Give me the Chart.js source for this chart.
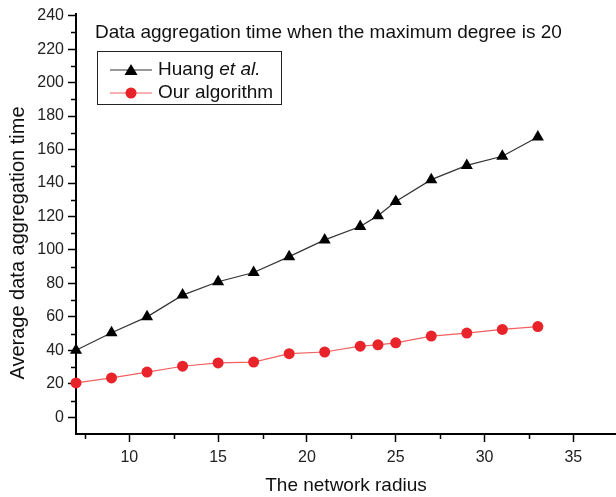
<!DOCTYPE html>
<html>
<head>
<meta charset="utf-8">
<script src="https://cdn.jsdelivr.net/npm/chart.js@4/dist/chart.umd.min.js"></script>
<style>
html,body{margin:0;padding:0;background:#fff;}
#wrap{width:616px;height:497px;position:relative;}
</style>
</head>
<body>
<div id="wrap"><canvas id="c" width="616" height="497"></canvas></div>
<script>
const radius = [7, 9, 11, 13, 15, 17, 19, 21, 23, 24, 25, 27, 29, 31, 33];
const huangValues = [40, 50.5, 60, 73, 81, 86.5, 96, 106, 114, 120.5, 129, 142, 150.5, 156, 167.5];
const ourValues = [20.5, 23.5, 27, 30.5, 32.5, 33, 38, 39, 42.5, 43.3, 44.5, 48.5, 50.3, 52.5, 54.2];
const seriesNames = ["Huang", "Our algorithm"];
const chartTitle = "Data aggregation time when the maximum degree is 20";
const xTitle = "The network radius";
const yTitle = "Average data aggregation time";
const yTickValues = [0, 20, 40, 60, 80, 100, 120, 140, 160, 180, 200, 220, 240];
const xTickValues = [10, 15, 20, 25, 30, 35];
const yMinorTicks = [10, 30, 50, 70, 90, 110, 130, 150, 170, 190, 210, 230];
const xMinorTicks = [7.5, 12.5, 17.5, 22.5, 27.5, 32.5, 37.5];

const FONT = "'Liberation Sans', Arial, sans-serif";
const RED = '#e8232a';

const toPts = (xs, ys) => xs.map((x, i) => ({x: x, y: ys[i]}));

const extras = {
  id: 'extras',
  afterDraw(chart) {
    const ctx = chart.ctx;
    const xs = chart.scales.x, ys = chart.scales.y;
    const area = chart.chartArea;
    ctx.save();
    // minor ticks
    ctx.strokeStyle = '#000';
    ctx.lineWidth = 1.5;
    ctx.beginPath();
    yMinorTicks.forEach(v => {
      const py = Math.round(ys.getPixelForValue(v)) + 0.5;
      ctx.moveTo(area.left - 5, py);
      ctx.lineTo(area.left, py);
    });
    xMinorTicks.forEach(v => {
      if (v > xs.max) return;
      const px = Math.round(xs.getPixelForValue(v)) + 0.5;
      ctx.moveTo(px, area.bottom);
      ctx.lineTo(px, area.bottom + 5);
    });
    ctx.stroke();

    // y axis title
    ctx.save();
    ctx.translate(18, 243);
    ctx.rotate(-Math.PI / 2);
    ctx.fillStyle = '#111';
    ctx.font = "20px " + FONT;
    ctx.textAlign = 'center';
    ctx.textBaseline = 'middle';
    ctx.fillText(yTitle, 0, 0);
    ctx.restore();

    // title
    ctx.fillStyle = '#111';
    ctx.font = "19px " + FONT;
    ctx.textBaseline = 'middle';
    ctx.textAlign = 'left';
    ctx.fillText(chartTitle, 95, 33);

    // legend box
    const bx = 97.5, by = 51.5, bw = 184, bh = 53;
    ctx.strokeStyle = '#222';
    ctx.lineWidth = 1;
    ctx.strokeRect(bx, by, bw, bh);

    const rows = [
      {y: 70, color: '#000', style: 'triangle'},
      {y: 93, color: RED, style: 'circle'}
    ];
    rows.forEach((r, i) => {
      ctx.strokeStyle = i === 0 ? '#333' : '#f06060';
      ctx.lineWidth = 1.2;
      ctx.beginPath();
      ctx.moveTo(110, r.y);
      ctx.lineTo(152, r.y);
      ctx.stroke();
      ctx.fillStyle = r.color;
      ctx.beginPath();
      if (r.style === 'triangle') {
        ctx.moveTo(131, r.y - 6);
        ctx.lineTo(137.5, r.y + 5);
        ctx.lineTo(124.5, r.y + 5);
        ctx.closePath();
      } else {
        ctx.arc(131, r.y, 5.5, 0, Math.PI * 2);
      }
      ctx.fill();
    });
    ctx.fillStyle = '#111';
    ctx.font = "19px " + FONT;
    ctx.textAlign = 'left';
    ctx.textBaseline = 'middle';
    const part1 = seriesNames[0] + " ";
    ctx.fillText(part1, 158, 70);
    const w1 = ctx.measureText(part1).width;
    ctx.font = "italic 19px " + FONT;
    ctx.fillText("et al.", 158 + w1, 70);
    ctx.font = "19px " + FONT;
    ctx.fillText(seriesNames[1], 158, 93);
    ctx.restore();
  }
};

new Chart(document.getElementById('c'), {
  type: 'line',
  data: {
    datasets: [
      {
        label: seriesNames[0],
        data: toPts(radius, huangValues),
        borderColor: '#333',
        borderWidth: 1.2,
        pointStyle: 'triangle',
        pointRadius: 7,
        pointBackgroundColor: '#000',
        pointBorderColor: '#000',
        pointBorderWidth: 0,
        tension: 0,
        clip: false
      },
      {
        label: seriesNames[1],
        data: toPts(radius, ourValues),
        borderColor: '#f06060',
        borderWidth: 1.2,
        pointStyle: 'circle',
        pointRadius: 5.5,
        pointBackgroundColor: RED,
        pointBorderColor: RED,
        pointBorderWidth: 0,
        tension: 0,
        clip: false
      }
    ]
  },
  options: {
    responsive: false,
    animation: false,
    layout: {autoPadding: false, padding: {left: 0, top: 14, right: 0, bottom: 0}},
    plugins: {
      legend: {display: false},
      title: {display: false},
      tooltip: {enabled: false}
    },
    scales: {
      x: {
        type: 'linear',
        min: 7,
        max: 37.4,
        afterBuildTicks: s => { s.ticks = xTickValues.map(v => ({value: v})); },
        afterFit: s => { s.height = 63; s.paddingLeft = 0; s.paddingRight = 0; },
        ticks: {stepSize: 5, color: '#222', font: {family: FONT, size: 16}, padding: 6, maxRotation: 0, autoSkip: false},
        grid: {drawOnChartArea: false, drawTicks: true, tickLength: 8, tickColor: '#000', tickWidth: 1.5},
        border: {color: '#000', width: 2},
        title: {display: true, text: xTitle, color: '#111', font: {family: FONT, size: 19}, padding: {top: 0, bottom: 0}}
      },
      y: {
        type: 'linear',
        min: -10,
        max: 241,
        afterBuildTicks: s => { s.ticks = yTickValues.map(v => ({value: v})); },
        afterFit: s => { s.width = 76; s.paddingTop = 0; s.paddingBottom = 0; },
        ticks: {stepSize: 20, color: '#222', font: {family: FONT, size: 16}, padding: 4, autoSkip: false},
        grid: {drawOnChartArea: false, drawTicks: true, tickLength: 8, tickColor: '#000', tickWidth: 1.5},
        border: {color: '#000', width: 2},
        title: {display: false}
      }
    }
  },
  plugins: [extras]
});
</script>
</body>
</html>
